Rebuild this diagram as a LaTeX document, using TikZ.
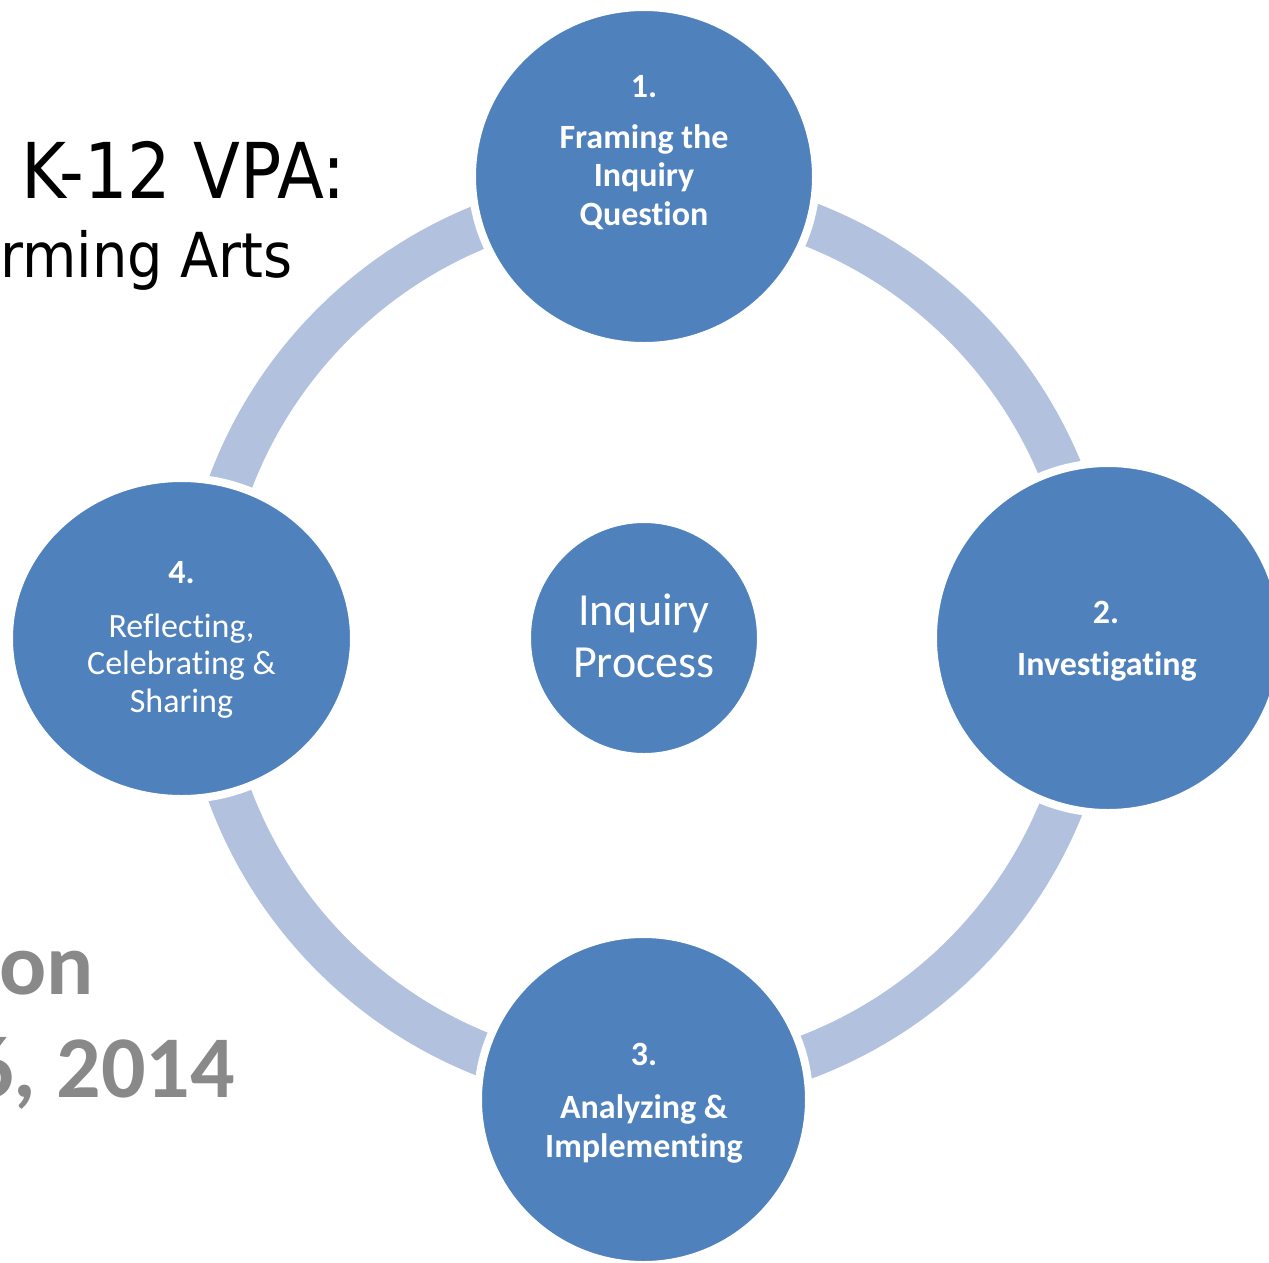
\documentclass[tikz,border=0pt]{standalone}
\usepackage{fontspec}
\usepackage{graphicx}
\setmainfont{Carlito}[Ligatures=NoCommon]
\newfontfamily\titlefont{DejaVu Sans}
\usetikzlibrary{shapes.geometric}
\definecolor{stageblue}{RGB}{79,129,189}
\definecolor{ringblue}{RGB}{178,194,222}
\definecolor{titlegrey}{RGB}{137,137,137}
\tikzset{
  bubble/.style={ellipse, fill=stageblue, draw=white, line width=8pt, inner sep=0pt},
  cyclering/.style={draw=ringblue, line width=44pt},
  stagenum/.style={text=white, font=\fontsize{34}{38.5}\selectfont\bfseries, anchor=base, inner sep=0pt},
  stagetext/.style={text=white, font=\fontsize{34}{38.5}\selectfont\bfseries, align=center, anchor=base, inner sep=0pt},
  stagetextlight/.style={text=white, font=\fontsize{34}{37.5}\selectfont, align=center, anchor=base, inner sep=0pt},
  hubtext/.style={text=white, font=\fontsize{46}{52}\selectfont, align=center, anchor=base, inner sep=0pt},
  titleline/.style={anchor=base east, inner sep=0pt, text=black},
  dateline/.style={anchor=base east, inner sep=0pt, text=titlegrey, font=\fontsize{88}{90}\selectfont\bfseries}
}
\begin{document}
\begin{tikzpicture}[x=1pt, y=-1pt]
  \useasboundingbox (0,0) rectangle (1269,1262);
  \clip (0,0) rectangle (1269,1262);

  % slide title text behind the diagram
  \node[titleline, font=\titlefont\fontsize{77}{80}\selectfont] (title1) at (346,198) {\scalebox{0.89}[1]{K-12 VPA:}};
  \node[titleline, font=\titlefont\fontsize{62}{66}\selectfont] (title2) at (293,277) {\scalebox{0.9}[1]{rming Arts}};
  \node[dateline] (date1) at (94,994) {on};
  \node[dateline] (date2) at (235,1097) {6, 2014};

  % cycle ring
  \coordinate (hub) at (648,640);
  \draw[cyclering] (hub) circle [radius=446pt];

  % stage bubbles
  \node[bubble, minimum width=344pt, minimum height=339pt] (c1) at (644,176.5) {};
  \node[bubble, minimum width=350pt, minimum height=350pt] (c2) at (1108,638) {};
  \node[bubble, minimum width=331pt, minimum height=331pt] (c3) at (643.5,1099.5) {};
  \node[bubble, minimum width=345pt, minimum height=321pt] (c4) at (181.5,638.5) {};
  \node[bubble, minimum width=234pt, minimum height=238pt] (c0) at (644,638) {};

  % stage labels (multi-line labels are placed by their last baseline)
  \node[stagenum] (n1) at (644,97) {1.};
  \node[stagetext] (t1) at (644,225) {Framing the\\Inquiry\\Question};
  \node[stagenum] (n2) at (1106,623) {2.};
  \node[stagetext] (t2) at (1107,675) {Investigating};
  \node[stagenum] (n3) at (644,1065) {3.};
  \node[stagetext] (t3) at (644,1157) {Analyzing \&\\Implementing};
  \node[stagenum] (n4) at (181.5,583) {4.};
  \node[stagetextlight] (t4) at (181.5,712) {Reflecting,\\Celebrating \&\\Sharing};
  \node[hubtext] (t0) at (644,677) {Inquiry\\Process};
\end{tikzpicture}
\end{document}
